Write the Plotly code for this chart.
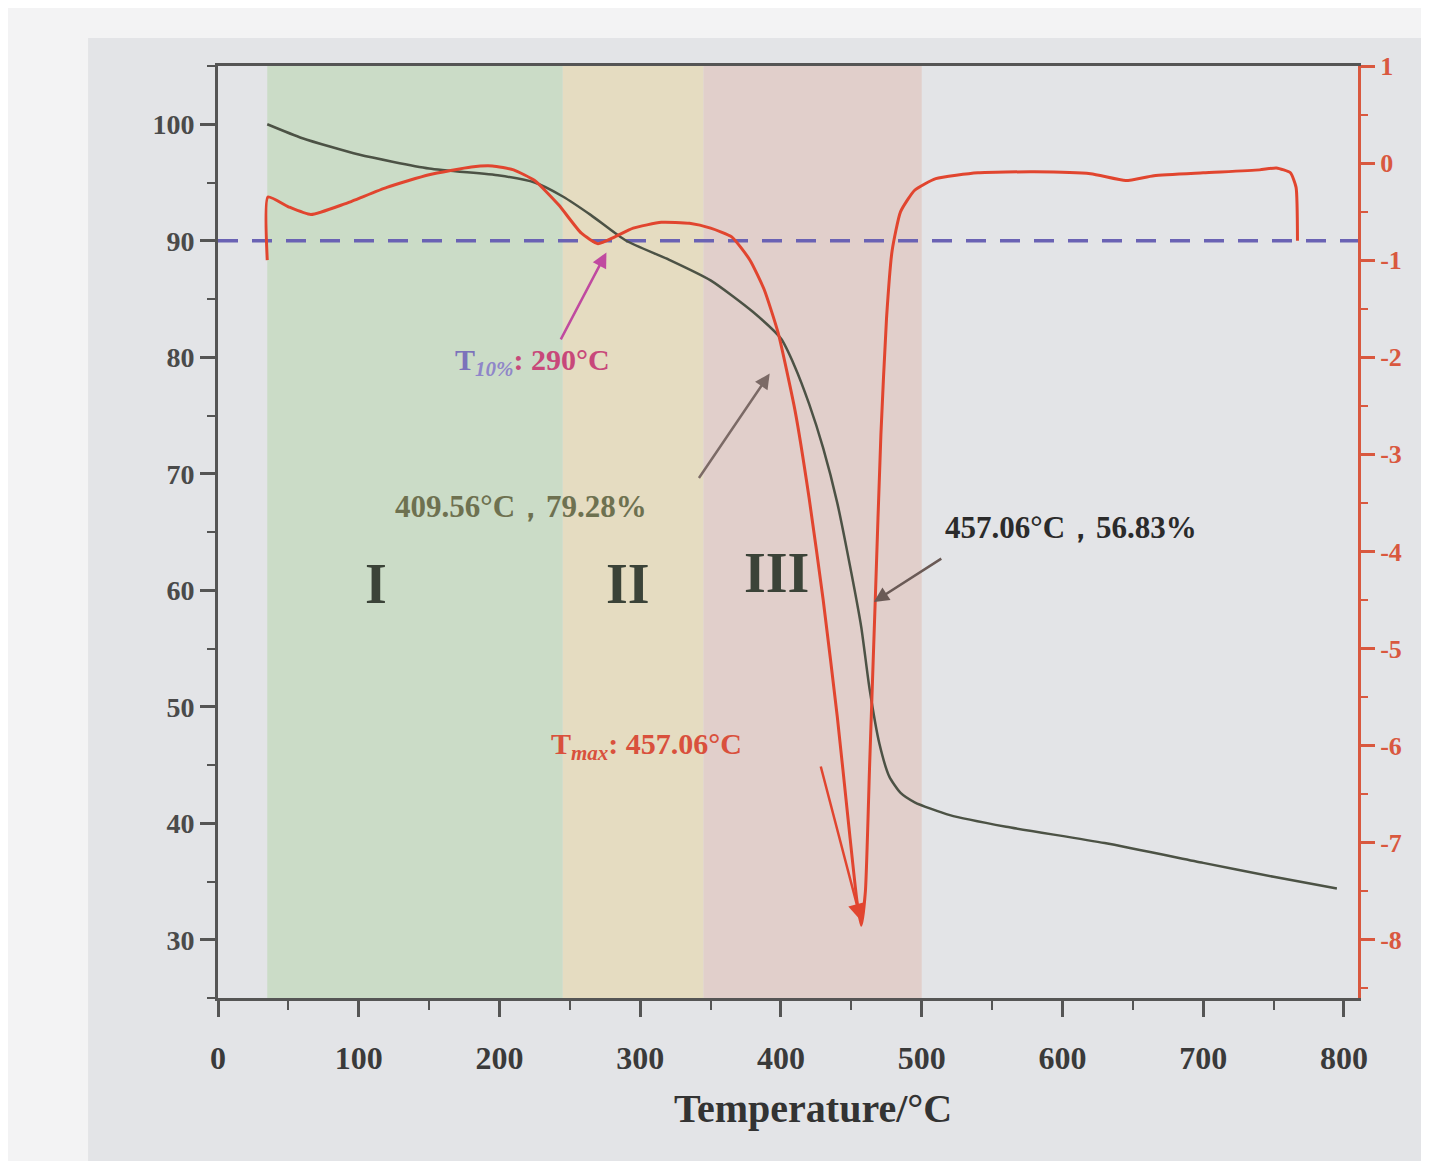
import plotly.graph_objects as go

# ---------------- data ----------------
tg_temp = [35, 60, 100, 150, 200, 225, 245, 265, 290, 320, 350, 380, 400, 409.56,
           420, 430, 440, 450, 457.06, 463, 470, 477, 485, 495, 520, 560, 630, 700, 750, 795]
tg_mass = [100, 98.8, 97.4, 96.2, 95.6, 95.0, 93.8, 92.2, 90.0, 88.4, 86.6, 83.9, 81.6, 79.28,
           76.0, 72.2, 67.5, 61.5, 56.83, 51.5, 46.8, 44.0, 42.6, 41.8, 40.7, 39.7, 38.3, 36.6, 35.4, 34.4]

dtg_temp = [35, 35.5, 50, 66, 90, 120, 150, 180, 195, 210, 225, 242, 258, 270, 282, 295, 315,
            335, 350, 365, 378, 388, 398, 410, 420, 430, 440, 448, 454, 457.06, 460, 463, 467,
            471, 475, 479, 485, 495, 510, 540, 580, 620, 645, 665, 700, 740, 752, 762, 766, 767]
dtg_rate = [-1.0, -0.35, -0.45, -0.53, -0.42, -0.25, -0.12, -0.04, -0.03, -0.07, -0.18, -0.43,
            -0.72, -0.83, -0.76, -0.67, -0.61, -0.62, -0.67, -0.76, -1.0, -1.3, -1.75, -2.55,
            -3.45, -4.5, -5.7, -6.8, -7.6, -7.85, -7.5, -6.2, -4.5, -2.8, -1.6, -0.9, -0.5,
            -0.28, -0.16, -0.1, -0.09, -0.11, -0.18, -0.13, -0.10, -0.07, -0.05, -0.1, -0.25, -0.8]

t10_line_x = [0, 810]
t10_line_y = [90, 90]

stage_names = ["I", "II", "III"]
stage_bounds = [(35, 245), (245, 345), (345, 500)]
stage_colors = ["rgba(200,218,195,0.9)", "rgba(228,218,188,0.9)", "rgba(224,204,200,0.9)"]
stage_label_x = [112, 291, 397]
stage_label_y = [60.5, 60.5, 61.5]

x_ticks = [0, 100, 200, 300, 400, 500, 600, 700, 800]
left_ticks = [30, 40, 50, 60, 70, 80, 90, 100]
right_ticks = [-8, -7, -6, -5, -4, -3, -2, -1, 0, 1]
right_tick_text = ["-8", "-7", "-6", "-5", "-4", "-3", "-2", "-1", "0", "1"]

SERIF = "Liberation Serif, Times New Roman, serif"

fig = go.Figure()

# sheet of paper in the photo (drawn first, underneath everything)
fig.add_shape(type="rect", xref="paper", yref="paper", x0=-0.114, x1=1.1, y0=-0.2, y1=1.03,
              fillcolor="#e3e4e7", line_width=0, layer="below")

# stage background rectangles
for (x0, x1), col in zip(stage_bounds, stage_colors):
    fig.add_shape(type="rect", xref="x", yref="paper", x0=x0, x1=x1, y0=0, y1=1,
                  fillcolor=col, line_width=0, layer="below")

fig.add_trace(go.Scatter(x=t10_line_x, y=t10_line_y, mode="lines",
                         line=dict(color="#6a62b4", width=3.5, dash="20px,14px"),
                         showlegend=False, hoverinfo="skip"))

fig.add_trace(go.Scatter(x=tg_temp, y=tg_mass, mode="lines",
                         line=dict(color="#4c5245", width=2.5, shape="spline", smoothing=0.6),
                         showlegend=False))

fig.add_trace(go.Scatter(x=dtg_temp, y=dtg_rate, mode="lines", yaxis="y2",
                         line=dict(color="#e1452f", width=3, shape="spline", smoothing=0.5),
                         showlegend=False))

# stage labels
for name, sx, sy in zip(stage_names, stage_label_x, stage_label_y):
    fig.add_annotation(x=sx, y=sy, text=name, showarrow=False,
                       font=dict(family=SERIF, size=56, color="#3b4338", weight="bold"))

# T10% annotation
fig.add_annotation(x=167, y=79.6, xanchor="left", yanchor="middle", showarrow=False,
                   text=("<span style='color:#7c72bb'>T</span>"
                         "<sub><i><span style='color:#8f86c9'>10%</span></i></sub>"
                         "<span style='color:#c8487a'>: 290°C</span>"),
                   font=dict(family=SERIF, size=30, weight="bold"))
fig.add_annotation(x=276, y=89.0, ax=243, ay=81.4, xref="x", yref="y", axref="x", ayref="y",
                   text="", showarrow=True, arrowhead=2, arrowsize=1.2, arrowwidth=2.5,
                   arrowcolor="#c04aa0")

# 409.56 annotation
fig.add_annotation(x=215, y=67.2, showarrow=False, text="409.56°C，79.28%",
                   font=dict(family=SERIF, size=31, color="#6e7150", weight="bold"))
fig.add_annotation(x=392, y=78.6, ax=341, ay=69.5, xref="x", yref="y", axref="x", ayref="y",
                   text="", showarrow=True, arrowhead=2, arrowsize=1.2, arrowwidth=2.5,
                   arrowcolor="#7b6a66")

# 457.06 annotation
fig.add_annotation(x=515, y=65.4, xanchor="left", showarrow=False, text="457.06°C，56.83%",
                   font=dict(family=SERIF, size=31, color="#2b2b2b", weight="bold"))
fig.add_annotation(x=466, y=59.0, ax=515, ay=62.8, xref="x", yref="y", axref="x", ayref="y",
                   text="", showarrow=True, arrowhead=2, arrowsize=1.2, arrowwidth=2.5,
                   arrowcolor="#6a5a56")

# Tmax annotation
fig.add_annotation(x=235, y=46.6, xanchor="left", showarrow=False,
                   text="T<sub><i>max</i></sub>: 457.06°C",
                   font=dict(family=SERIF, size=30, color="#d9503c", weight="bold"))
fig.add_annotation(x=457, y=31.6, ax=428, ay=45.0, xref="x", yref="y", axref="x", ayref="y",
                   text="", showarrow=True, arrowhead=2, arrowsize=1.4, arrowwidth=2.5,
                   arrowcolor="#e1452f")

# x axis title
fig.add_annotation(xref="paper", yref="paper", x=0.522, y=-0.145, showarrow=False,
                   text="Temperature/°C",
                   font=dict(family=SERIF, size=40, color="#333333", weight="bold"))

fig.update_layout(
    width=1429, height=1161,
    margin=dict(l=210, r=79, t=58, b=171),
    paper_bgcolor="#f3f3f4",
    plot_bgcolor="rgba(0,0,0,0)",
    showlegend=False,
    xaxis=dict(range=[0, 810], tickvals=x_ticks, showgrid=False, zeroline=False,
               showline=True, linecolor="#555555", linewidth=3, mirror=True,
               ticks="outside", ticklen=16, tickwidth=3, tickcolor="#555555",
               minor=dict(dtick=50, tick0=0, ticks="outside", ticklen=9, tickwidth=2,
                          tickcolor="#555555", showgrid=False),
               tickfont=dict(family=SERIF, size=32, color="#3a3a3a", weight="bold"),
               ticklabelstandoff=14),
    yaxis=dict(range=[25, 105], tickvals=left_ticks, showgrid=False, zeroline=False,
               showline=True, linecolor="#555555", linewidth=3,
               ticks="outside", ticklen=15, tickwidth=3, tickcolor="#555555",
               minor=dict(dtick=5, tick0=0, ticks="outside", ticklen=8, tickwidth=2,
                          tickcolor="#555555", showgrid=False),
               tickfont=dict(family=SERIF, size=28, color="#4a4a4a", weight="bold")),
    yaxis2=dict(range=[-8.6, 1], tickvals=right_ticks, ticktext=right_tick_text,
                overlaying="y", side="right",
                showgrid=False, zeroline=False, showline=True, linecolor="#d9583f",
                linewidth=3, ticks="outside", ticklen=14, tickwidth=3, tickcolor="#d9583f",
                minor=dict(dtick=0.5, tick0=0, ticks="outside", ticklen=7, tickwidth=2,
                           tickcolor="#d9583f", showgrid=False),
                tickfont=dict(family=SERIF, size=26, color="#d9583f", weight="bold")),
)

fig.write_html("out.html")
